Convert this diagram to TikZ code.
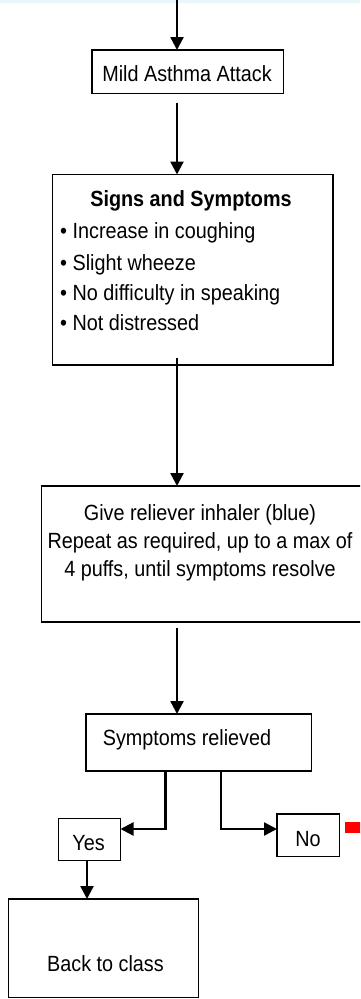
\documentclass[tikz,border=0pt]{standalone}
\usepackage{fontspec}
\setmainfont{Liberation Sans}[FakeStretch=0.9]
\usetikzlibrary{arrows.meta}
\definecolor{topband}{RGB}{232,246,250}
\begin{document}
\begin{tikzpicture}[x=1pt, y=-1pt,
    box/.style={draw, line width=1.6pt, inner sep=0pt, outer sep=0pt, anchor=north west},
    arr/.style={line width=2.3pt, -{Triangle[length=13pt, width=13pt]}},
    txt/.style={anchor=base, inner sep=0pt, font=\fontsize{22}{26}\selectfont},
    ltxt/.style={txt, anchor=base west}]
    \useasboundingbox (0, 0) rectangle (360, 999);
    \clip (0, 0) rectangle (360, 999);
    \fill [topband] (0, 0) rectangle (360, 2.5);

    % boxes
    \node [box, minimum width=191.5pt, minimum height=43.5pt] (mild) at (92, 50) {};
    \node [box, minimum width=280.5pt, minimum height=190.5pt] (signs) at (52.5, 174.5) {};
    \node [box, minimum width=323.5pt, minimum height=136pt] (give) at (41.5, 486) {};
    \node [box, minimum width=225.5pt, minimum height=57pt] (sym) at (86, 714) {};
    \node [box, minimum width=62pt, minimum height=42pt] (yes) at (58.5, 818.5) {};
    \node [box, minimum width=62.5pt, minimum height=42.5pt] (no) at (277, 814) {};
    \node [box, minimum width=190pt, minimum height=98.5pt] (back) at (8.5, 899) {};

    % texts
    \node [txt] (mildtxt) at (187, 81.5) {Mild Asthma Attack};
    \node [txt] (signstitle) at (191, 206.5) {\bfseries Signs and Symptoms};
    \node [ltxt] (s1) at (60, 238) {\textbullet\ Increase in coughing};
    \node [ltxt] (s2) at (60, 270) {\textbullet\ Slight wheeze};
    \node [ltxt] (s3) at (60, 300.5) {\textbullet\ No difficulty in speaking};
    \node [ltxt] (s4) at (60, 330.5) {\textbullet\ Not distressed};
    \node [txt] (give1) at (200, 520.5) {Give reliever inhaler (blue)};
    \node [txt] (give2) at (200, 548) {Repeat as required, up to a max of};
    \node [txt] (give3) at (200, 576.5) {4 puffs, until symptoms resolve};
    \node [txt] (symtxt) at (187, 745) {Symptoms relieved};
    \node [txt] (yestxt) at (88.5, 850) {Yes};
    \node [txt] (notxt) at (308, 846.5) {No};
    \node [txt] (backtxt) at (105.5, 971.5) {Back to class};

    % connectors
    \coordinate (entry) at (177, 0);
    \coordinate (ybend) at (165.5, 829);
    \coordinate (nbend) at (221, 829);
    \coordinate (ydown) at (87, 0);
    \draw [arr] (entry) -- (entry |- mild.north);
    \draw [arr, shorten <=9pt] (entry |- mild.south) -- (entry |- signs.north);
    \draw [arr, shorten <=-7pt] (entry |- signs.south) -- (entry |- give.north);
    \draw [arr, shorten <=6pt] (entry |- give.south) -- (entry |- sym.north);
    \draw [arr] (ybend |- sym.south) -- (ybend) -- (ybend -| yes.east);
    \draw [arr] (nbend |- sym.south) -- (nbend) -- (nbend -| no.west);
    \draw [arr] (ydown |- yes.south) -- (ydown |- back.north);
    \draw [red, line width=11pt, shorten <=5.5pt] ([yshift=7.5pt]no.east) -- ++(25, 0);
\end{tikzpicture}
\end{document}
